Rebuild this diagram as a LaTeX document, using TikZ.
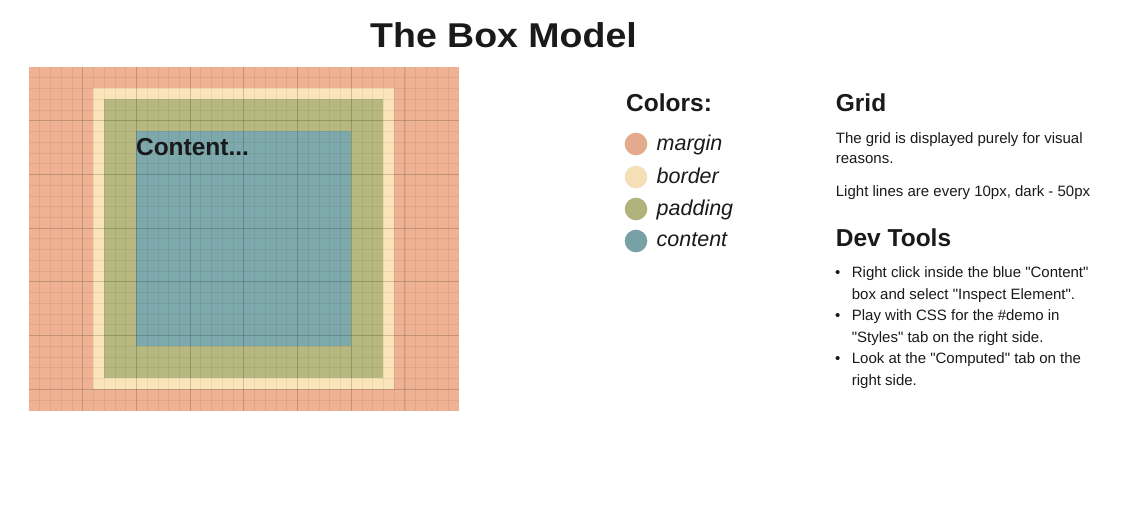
\documentclass[tikz,border=0pt]{standalone}
\usepackage{fontspec}
\setmainfont{Liberation Sans}
\setmonofont{Liberation Sans}
\newfontfamily\titlefont{Liberation Sans}[FakeStretch=1.09]
\newcommand\sq{{\ttfamily\symbol{34}}}
\definecolor{marginc}{HTML}{EFB394}
\definecolor{borderc}{HTML}{FAE4BA}
\definecolor{paddingc}{HTML}{B7B880}
\definecolor{contentc}{HTML}{7DA8AC}
\definecolor{txt}{HTML}{1A1A1A}
\begin{document}
\begin{tikzpicture}[x=1pt,y=-1pt,
  txtnode/.style={anchor=base west,inner sep=0pt,text=txt},
  body/.style={txtnode,font=\fontsize{15}{18}\selectfont},
  heading/.style={txtnode,font=\fontsize{24.5}{28}\selectfont\bfseries},
  legend/.style={txtnode,font=\fontsize{21.5}{25}\selectfont\itshape},
  dot/.style={circle,inner sep=0pt,minimum size=22.6pt},
  lightline/.style={black,opacity=0.06,line width=0.7pt},
  darkline/.style={black,opacity=0.13,line width=0.9pt}]
\useasboundingbox[fill=white] (0,0) rectangle (1136,520);
\node[anchor=base,inner sep=0pt,text=txt,font=\titlefont\fontsize{34.4}{40}\selectfont\bfseries] (title) at (503.5,47.3) {The Box Model};
% box model demo
\begin{scope}[shift={(29,67)},x=1.074pt,y=-1.074pt]
  \fill[marginc] (0,0) rectangle (400,320);
  \fill[borderc] (60,20) rectangle (340,300);
  \fill[paddingc] (70,30) rectangle (330,290);
  \fill[contentc] (100,60) rectangle (300,260);
  \node[heading] (contentlabel) at (99.5,82) {Content...};
  \foreach \i in {10,20,...,390} \draw[lightline] (\i,0) -- (\i,320);
  \foreach \j in {10,20,...,310} \draw[lightline] (0,\j) -- (400,\j);
  \foreach \i in {50,100,...,350} \draw[darkline] (\i,0) -- (\i,320);
  \foreach \j in {50,100,...,300} \draw[darkline] (0,\j) -- (400,\j);
\end{scope}
% legend
\node[heading] (colors) at (626,111.7) {Colors:};
\node[dot,fill=marginc!95!black] (dmargin) at (636,144) {};
\node[dot,fill=borderc!98!black] (dborder) at (636,177) {};
\node[dot,fill=paddingc!97!black] (dpadding) at (636,209) {};
\node[dot,fill=contentc!96!black] (dcontent) at (636,241) {};
\node[legend] (lmargin) at (656.5,150.7) {margin};
\node[legend] (lborder) at (656.5,183.3) {border};
\node[legend] (lpadding) at (656.5,215) {padding};
\node[legend] (lcontent) at (656.5,246.7) {content};
% grid text
\node[heading] (grid) at (835.7,111.7) {Grid};
\node[body] (g1) at (835.7,143.3) {The grid is displayed purely for visual};
\node[body] (g2) at (835.7,163.3) {reasons.};
\node[body] (g3) at (835.7,196) {Light lines are every 10px, dark - 50px};
% dev tools
\node[heading] (dev) at (835.7,246.7) {Dev Tools};
\node[body] (b1) at (835,277.3) {•};
\node[body] (t1) at (851.7,277.3) {Right click inside the blue \sq Content\sq};
\node[body] (t1b) at (851.7,299) {box and select \sq Inspect Element\sq.};
\node[body] (b2) at (835,320.7) {•};
\node[body] (t2) at (851.7,320.7) {Play with CSS for the \#demo in};
\node[body] (t2b) at (851.7,342.3) {\sq Styles\sq\ tab on the right side.};
\node[body] (b3) at (835,363.3) {•};
\node[body] (t3) at (851.7,363.3) {Look at the \sq Computed\sq\ tab on the};
\node[body] (t3b) at (851.7,385) {right side.};
\end{tikzpicture}
\end{document}
